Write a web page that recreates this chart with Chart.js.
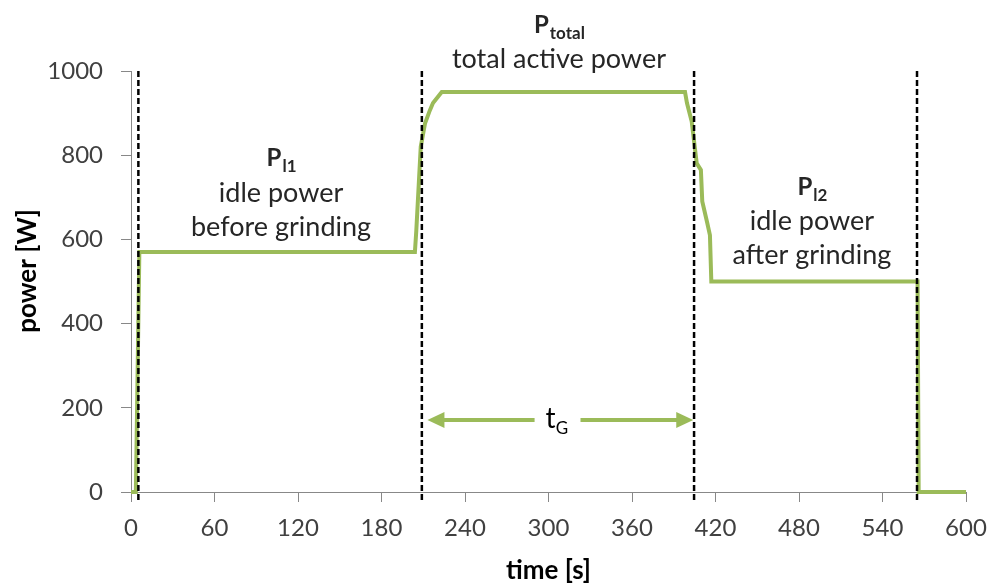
<!DOCTYPE html>
<html><head><meta charset="utf-8">
<script src="https://cdn.jsdelivr.net/npm/chart.js@4/dist/chart.umd.min.js"></script>
<style>html,body{margin:0;padding:0;background:#fff}</style>
</head><body>
<canvas id="c" width="990" height="588" style="width:990px;height:588px;display:block"></canvas>
<script>
// ---- data ----
const timeS  = [0, 3.5, 6, 204, 205, 208.2, 211.3, 214.8, 217, 223.3, 398.1, 399.5, 402.9, 406.5, 409.5, 410.5, 414, 416, 417, 565.2, 566, 600];
const powerW = [0, 0, 570, 570, 620, 820, 876, 907, 924, 950, 950, 924, 880, 781, 765, 690, 640, 610, 500, 500, 0, 0];
const markerTimes = [5.3, 209, 404.6, 564.8];
const markerRange = [-20, 1000];
const xTicks = {min: 0, max: 600, step: 60};
const yTicks = {min: 0, max: 1000, step: 200};
const tgArrow = [213, 404];
const tgGap = [290, 323];
const tgLevel = 171;
const tgLabelTime = 306;
const yTitle = {text: 'power [W]', power: 525};

const GREEN = '#9BBB59';
const points = timeS.map((t, i) => ({x: t, y: powerW[i]}));

const markerSets = markerTimes.map(t => ({
  data: [{x: t, y: markerRange[1]}, {x: t, y: markerRange[0]}],
  borderColor: '#000', borderWidth: 2.5, borderDash: [6, 3],
  pointRadius: 0, clip: false, order: 0, showLine: true
}));

const labelBlocks = [
  {t: 107.8, head: 774, sub: 'l1', lines: [['idle power', 689], ['before grinding', 608]]},
  {t: 307.5, head: 1090, sub: 'total', lines: [['total active power', 1007]]},
  {t: 489.3, head: 705, sub: 'l2', lines: [['idle power', 622], ['after grinding', 541]]}
];

const annot = {
  id: 'annot',
  afterDatasetsDraw(chart) {
    const ctx = chart.ctx, xs = chart.scales.x, ys = chart.scales.y;
    ctx.save();
    ctx.fillStyle = '#262626';
    ctx.textBaseline = 'alphabetic';
    labelBlocks.forEach(b => {
      const cx = xs.getPixelForValue(b.t);
      const by = ys.getPixelForValue(b.head);
      const fP = 'bold 24px Lato', fS = 'bold 17px Lato';
      ctx.font = fP; const wP = ctx.measureText('P').width;
      ctx.font = fS; const wS = ctx.measureText(b.sub).width;
      const x0 = cx - (wP + wS) / 2;
      ctx.textAlign = 'left';
      ctx.font = fP; ctx.fillText('P', x0, by);
      ctx.font = fS; ctx.fillText(b.sub, x0 + wP + 1, by + 6);
      ctx.textAlign = 'center';
      ctx.font = '27px Lato';
      b.lines.forEach(([txt, v]) => ctx.fillText(txt, cx, ys.getPixelForValue(v)));
    });
    // t_G arrow
    const yA = ys.getPixelForValue(tgLevel);
    const xL = xs.getPixelForValue(tgArrow[0]), xR = xs.getPixelForValue(tgArrow[1]);
    const g0 = xs.getPixelForValue(tgGap[0]), g1 = xs.getPixelForValue(tgGap[1]);
    const head = 17, half = 8;
    ctx.strokeStyle = GREEN; ctx.fillStyle = GREEN; ctx.lineWidth = 4;
    ctx.beginPath(); ctx.moveTo(xL + head - 2, yA); ctx.lineTo(g0, yA); ctx.stroke();
    ctx.beginPath(); ctx.moveTo(g1, yA); ctx.lineTo(xR - head + 2, yA); ctx.stroke();
    ctx.beginPath(); ctx.moveTo(xL, yA); ctx.lineTo(xL + head, yA - half); ctx.lineTo(xL + head, yA + half); ctx.closePath(); ctx.fill();
    ctx.beginPath(); ctx.moveTo(xR, yA); ctx.lineTo(xR - head, yA - half); ctx.lineTo(xR - head, yA + half); ctx.closePath(); ctx.fill();
    const lx = xs.getPixelForValue(tgLabelTime);
    ctx.fillStyle = '#000';
    ctx.font = '28px Lato'; const wt = ctx.measureText('t').width;
    ctx.font = '17px Lato'; const wg = ctx.measureText('G').width;
    const sx = lx - (wt + wg) / 2;
    ctx.textAlign = 'left';
    ctx.font = '28px Lato'; ctx.fillText('t', sx, yA + 8);
    ctx.font = '17px Lato'; ctx.fillText('G', sx + wt, yA + 14);
    // y axis title (rotated)
    ctx.save();
    ctx.translate(28, ys.getPixelForValue(yTitle.power));
    ctx.rotate(-Math.PI / 2);
    ctx.textAlign = 'center'; ctx.textBaseline = 'middle';
    ctx.font = 'bold 26px Lato'; ctx.fillStyle = '#000';
    ctx.fillText(yTitle.text, 0, 0);
    ctx.restore();
    ctx.restore();
  }
};

new Chart(document.getElementById('c'), {
  type: 'scatter',
  data: {
    datasets: [
      {data: points, showLine: true, borderColor: GREEN, borderWidth: 4, pointRadius: 0,
       tension: 0, clip: false, order: 1, borderJoinStyle: 'miter', borderCapStyle: 'butt'},
      ...markerSets
    ]
  },
  options: {
    responsive: false, animation: false, devicePixelRatio: 1,
    layout: {padding: {top: 71, right: 24, bottom: 0, left: 0}},
    plugins: {legend: {display: false}, tooltip: {enabled: false}},
    scales: {
      x: {
        type: 'linear', min: xTicks.min, max: xTicks.max,
        afterFit(s) { s.height = 96; s.paddingLeft = 0; s.paddingRight = 0; },
        ticks: {stepSize: xTicks.step, color: '#404040', font: {family: 'Lato', size: 24}, padding: 12, maxRotation: 0,
                callback: v => String(v)},
        grid: {drawOnChartArea: false, drawTicks: true, tickLength: 10, color: '#888888'},
        border: {color: '#888888', width: 1},
        title: {display: true, text: 'time [s]', color: '#000', font: {family: 'Lato', size: 26, weight: 'bold'}, padding: {top: 0, bottom: 2}}
      },
      y: {
        min: yTicks.min, max: yTicks.max,
        afterFit(s) { s.width = 131; s.paddingTop = 0; s.paddingBottom = 0; },
        ticks: {stepSize: yTicks.step, color: '#404040', font: {family: 'Lato', size: 24}, padding: 18,
                callback: v => String(v)},
        grid: {drawOnChartArea: false, drawTicks: true, tickLength: 10, color: '#888888'},
        border: {color: '#888888', width: 1},
        title: {display: false}
      }
    }
  },
  plugins: [annot]
});
</script>
</body></html>
